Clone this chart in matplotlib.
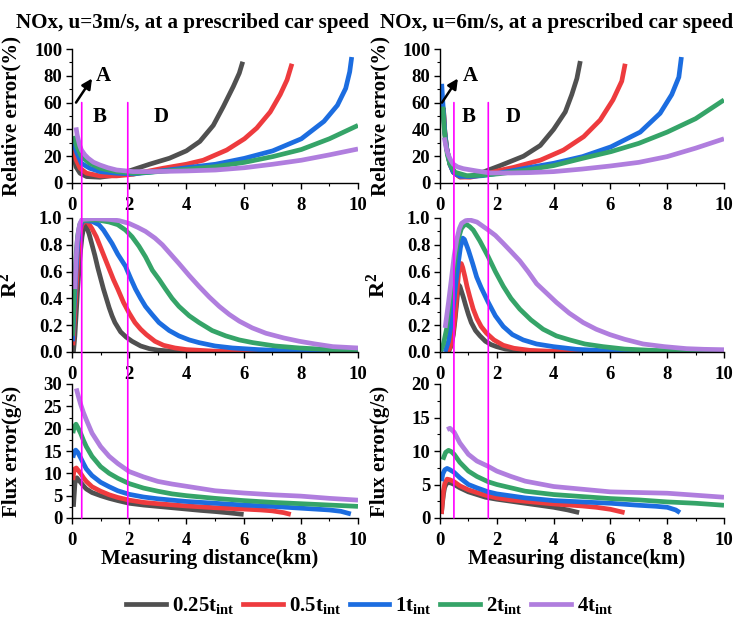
# NOx 측정 오차: u=3 / u=6 m/s, 측정 거리별 relative error, R^2, flux error
import matplotlib
matplotlib.use("Agg")
import matplotlib.pyplot as plt
from matplotlib.patches import ConnectionPatch
from matplotlib.ticker import MultipleLocator, FormatStrFormatter

plt.rcParams.update({
    "font.family": "Liberation Serif",
    "font.weight": "bold",
    "axes.labelweight": "bold",
    "mathtext.fontset": "custom",
    "mathtext.rm": "Liberation Serif:bold",
    "mathtext.it": "Liberation Serif:bold",
    "mathtext.bf": "Liberation Serif:bold",
    "axes.linewidth": 1.0,
})

# ────────────────────────────────────────
# 0. 데이터
# ────────────────────────────────────────
LABELS = [r"0.25t$_{\rm int}$", r"0.5t$_{\rm int}$", r"1t$_{\rm int}$",
          r"2t$_{\rm int}$", r"4t$_{\rm int}$"]
COLORS = ["#505050", "#ee3b3e", "#1c6de0", "#35a468", "#b07ede"]

# relative error (%), u=3
re3_x_g = [0.03, 0.08, 0.14, 0.28, 0.51, 0.98, 1.56, 2.0, 2.71, 3.41, 4.0, 4.47, 4.94, 5.29, 5.64, 5.85, 5.97]
re3_y_g = [27, 18, 12, 7.3, 4.8, 4.3, 6, 9, 14, 18.5, 24, 31, 43, 57, 72, 82, 90.5]
re3_x_r = [0.03, 0.08, 0.14, 0.28, 0.51, 0.98, 1.56, 2.14, 2.71, 3.18, 4.0, 4.59, 5.41, 6.03, 6.46, 6.93, 7.28, 7.52, 7.69]
re3_y_r = [30, 23, 17.6, 11, 7.3, 5.3, 5.3, 6.5, 9, 11, 14, 17, 24.6, 33, 41, 53, 66, 77, 89]
re3_x_b = [0.03, 0.1, 0.17, 0.33, 0.62, 0.98, 1.56, 2.14, 2.71, 4.0, 5.02, 6.03, 7.02, 8.02, 8.81, 9.28, 9.57, 9.71, 9.78]
re3_y_b = [32.3, 27, 22.4, 14.7, 11, 8.5, 7.3, 6.8, 8, 11.4, 14, 18.4, 24, 33, 46, 58, 70.6, 83, 94]
re3_x_gr = [0.05, 0.11, 0.17, 0.33, 0.62, 0.98, 1.56, 2.14, 2.71, 4.0, 5.02, 6.03, 7.02, 8.02, 9.0, 10.0]
re3_y_gr = [35, 31, 27, 19.7, 14.7, 11, 8.5, 7.3, 8, 10.2, 12.2, 15.4, 19.7, 25, 33, 43]
re3_x_p = [0.14, 0.18, 0.22, 0.27, 0.33, 0.45, 0.57, 0.75, 0.98, 1.25, 1.56, 2.14, 2.71, 3.3, 4.0, 5.02, 6.03, 7.02, 8.02, 9.0, 10.0]
re3_y_p = [41.5, 36, 32.3, 28, 24.6, 21, 18.4, 15.5, 13.4, 11.4, 9.7, 8.5, 8.5, 8.7, 9.0, 9.7, 11.4, 14, 17, 21, 25.4]

# relative error (%), u=6
re6_x_g = [0.12, 0.17, 0.23, 0.35, 0.47, 0.7, 1.06, 1.5, 2.12, 2.94, 3.53, 4.0, 4.41, 4.64, 4.82, 4.94]
re6_y_g = [56, 38, 26.6, 14, 8, 4.5, 5, 8, 13, 20, 28, 40, 53, 66, 78, 91]
re6_x_r = [0.12, 0.17, 0.23, 0.35, 0.47, 0.7, 1.06, 1.5, 2.12, 2.6, 3.53, 4.35, 5.06, 5.64, 6.09, 6.4, 6.52]
re6_y_r = [56, 38, 26.6, 14, 8, 4.5, 4.3, 6, 9.5, 11.7, 17, 24.6, 34.6, 47, 62, 76, 89]
re6_x_b = [0.06, 0.1, 0.17, 0.23, 0.35, 0.47, 0.7, 1.06, 1.5, 2.12, 3.0, 4.0, 5.02, 6.02, 7.05, 7.75, 8.16, 8.41, 8.5]
re6_y_b = [74, 60, 38, 26.6, 14, 8, 5, 4.8, 5.5, 7.5, 11, 14.7, 19.7, 27, 38, 52, 66, 79, 94]
re6_x_gr = [0.1, 0.14, 0.18, 0.26, 0.35, 0.53, 0.94, 1.5, 2.12, 3.0, 4.0, 5.02, 6.02, 7.0, 8.0, 9.0, 10.0]
re6_y_gr = [57, 43, 33.6, 21, 14, 8, 5.5, 5.8, 7, 9.5, 13, 18.4, 23.4, 29.6, 38, 48, 62]
re6_x_p = [0.15, 0.22, 0.29, 0.38, 0.47, 0.62, 0.82, 1.29, 1.76, 2.5, 3.2, 4.0, 5.0, 6.0, 7.0, 8.0, 9.0, 10.0]
re6_y_p = [34, 26, 21, 17, 14, 12, 10.7, 9, 7.5, 7.5, 7.8, 8.5, 10.4, 12.7, 15.4, 19.7, 26, 33]

# R^2, u=3
r3_x_g = [0.05, 0.1, 0.15, 0.2, 0.25, 0.3, 0.35, 0.4, 0.45, 0.5, 0.6, 0.7, 0.8, 0.9, 1.0, 1.1, 1.2, 1.3, 1.4,
          1.5, 1.7, 1.9, 2.1, 2.4, 2.7, 3.0, 3.5, 4.0, 5.0, 6.0]
r3_y_g = [0.0, 0.12, 0.3, 0.48, 0.63, 0.76, 0.86, 0.92, 0.95, 0.94, 0.88, 0.8, 0.72, 0.63, 0.55, 0.47, 0.4,
          0.33, 0.27, 0.22, 0.15, 0.11, 0.08, 0.045, 0.025, 0.014, 0.006, 0.003, 0.001, 0.0]
r3_x_r = [0.03, 0.1, 0.15, 0.2, 0.25, 0.3, 0.35, 0.45, 0.55, 0.7, 0.85, 1.0, 1.15, 1.3, 1.45, 1.6, 1.8, 2.0,
          2.2, 2.4, 2.6, 2.9, 3.2, 3.6, 4.0, 5.0, 6.0, 7.6]
r3_y_r = [0.05, 0.3, 0.5, 0.68, 0.82, 0.91, 0.95, 0.975, 0.97, 0.92, 0.86, 0.78, 0.7, 0.62, 0.54, 0.47, 0.37,
          0.29, 0.22, 0.17, 0.13, 0.08, 0.05, 0.03, 0.018, 0.006, 0.002, 0.0]
r3_x_b = [0.02, 0.08, 0.14, 0.2, 0.27, 0.35, 0.45, 0.7, 0.94, 1.1, 1.25, 1.4, 1.6, 1.87, 2.05, 2.22, 2.4,
          2.57, 2.8, 3.04, 3.4, 3.74, 4.1, 4.44, 5.0, 5.61, 6.5, 7.37, 8.5, 10.0]
r3_y_b = [0.08, 0.35, 0.6, 0.8, 0.92, 0.97, 0.98, 0.975, 0.95, 0.91, 0.86, 0.81, 0.73, 0.64, 0.55, 0.47, 0.4,
          0.34, 0.28, 0.22, 0.16, 0.12, 0.09, 0.07, 0.045, 0.03, 0.018, 0.01, 0.006, 0.003]
r3_x_gr = [0.02, 0.06, 0.1, 0.15, 0.2, 0.27, 0.35, 0.6, 0.9, 1.3, 1.6, 1.87, 2.1, 2.34, 2.57, 2.81, 3.05,
           3.27, 3.5, 3.74, 4.1, 4.44, 4.9, 5.38, 5.85, 6.32, 7.1, 7.95, 9.0, 10.0]
r3_y_gr = [0.12, 0.35, 0.55, 0.75, 0.87, 0.95, 0.98, 0.985, 0.985, 0.97, 0.95, 0.91, 0.86, 0.79, 0.71, 0.61,
           0.54, 0.47, 0.4, 0.34, 0.27, 0.22, 0.16, 0.12, 0.09, 0.07, 0.045, 0.03, 0.018, 0.01]
r3_x_p = [0.1, 0.14, 0.18, 0.23, 0.28, 0.35, 0.8, 1.29, 1.65, 1.99, 2.3, 2.57, 2.9, 3.16, 3.45, 3.74, 4.1,
          4.44, 4.8, 5.15, 5.5, 5.85, 6.3, 6.78, 7.4, 7.95, 8.5, 9.12, 10.0]
r3_y_p = [0.47, 0.68, 0.82, 0.91, 0.96, 0.99, 0.995, 0.99, 0.98, 0.96, 0.93, 0.9, 0.85, 0.8, 0.73, 0.66, 0.57,
          0.49, 0.41, 0.34, 0.28, 0.23, 0.18, 0.14, 0.105, 0.08, 0.06, 0.04, 0.03]

# R^2, u=6
r6_x_g = [0.3, 0.4, 0.47, 0.53, 0.58, 0.62, 0.66, 0.7, 0.76, 0.82, 0.9, 1.0, 1.1, 1.25, 1.41, 1.6, 1.8,
          1.99, 2.3, 2.81, 3.5, 4.9]
r6_y_g = [0.0, 0.05, 0.13, 0.24, 0.35, 0.44, 0.5, 0.49, 0.45, 0.41, 0.35, 0.28, 0.22, 0.16, 0.12, 0.08,
          0.055, 0.04, 0.022, 0.01, 0.004, 0.0]
r6_x_r = [0.25, 0.35, 0.45, 0.53, 0.6, 0.65, 0.7, 0.75, 0.8, 0.88, 0.95, 1.05, 1.17, 1.3, 1.45, 1.64, 1.9,
          2.23, 2.6, 3.17, 4.0, 5.0, 6.5]
r6_y_r = [0.0, 0.03, 0.12, 0.27, 0.45, 0.58, 0.66, 0.66, 0.63, 0.56, 0.49, 0.41, 0.32, 0.25, 0.19, 0.14,
          0.09, 0.05, 0.028, 0.012, 0.005, 0.002, 0.0]
r6_x_b = [0.18, 0.3, 0.4, 0.47, 0.55, 0.64, 0.72, 0.8, 0.86, 0.93, 1.0, 1.15, 1.29, 1.45, 1.7, 1.95, 2.23,
          2.55, 2.93, 3.4, 3.99, 4.8, 5.74, 7.0, 8.5]
r6_y_b = [0.0, 0.08, 0.22, 0.34, 0.5, 0.66, 0.78, 0.85, 0.84, 0.8, 0.76, 0.66, 0.56, 0.48, 0.37, 0.27, 0.19,
          0.13, 0.09, 0.06, 0.04, 0.02, 0.01, 0.005, 0.0]
r6_x_gr = [0.02, 0.12, 0.23, 0.35, 0.47, 0.56, 0.64, 0.75, 0.86, 0.95, 1.05, 1.17, 1.4, 1.7, 1.95, 2.23,
           2.5, 2.81, 3.2, 3.63, 4.1, 4.57, 5.1, 5.74, 6.5, 7.5, 8.7, 10.0]
r6_y_gr = [0.005, 0.06, 0.17, 0.37, 0.59, 0.74, 0.84, 0.92, 0.95, 0.95, 0.935, 0.91, 0.83, 0.71, 0.6, 0.49,
           0.4, 0.32, 0.24, 0.17, 0.12, 0.09, 0.06, 0.04, 0.022, 0.012, 0.006, 0.003]
r6_x_p = [0.18, 0.3, 0.41, 0.5, 0.59, 0.68, 0.76, 0.9, 1.06, 1.3, 1.5, 1.7, 1.95, 2.23, 2.5, 2.81, 3.1,
          3.4, 3.75, 4.1, 4.55, 5.04, 5.5, 5.98, 6.5, 7.15, 7.9, 8.68, 9.3, 10.0]
r6_y_p = [0.18, 0.37, 0.56, 0.72, 0.84, 0.92, 0.96, 0.98, 0.985, 0.97, 0.94, 0.91, 0.87, 0.81, 0.75, 0.68,
          0.6, 0.51, 0.44, 0.37, 0.29, 0.22, 0.17, 0.13, 0.095, 0.06, 0.04, 0.025, 0.02, 0.017]

# flux error (g/s), u=3
fx3_x_g = [0.05, 0.08, 0.1, 0.13, 0.17, 0.22, 0.3, 0.4, 0.5, 0.7, 1.0, 1.3, 1.6, 2.0, 2.5, 3.0, 3.5, 4.0,
           4.5, 5.0, 5.5, 6.0]
fx3_y_g = [2.5, 5.5, 7.5, 8.8, 9.0, 8.6, 8.0, 7.2, 6.5, 5.7, 5.0, 4.4, 3.9, 3.3, 2.9, 2.6, 2.3, 2.0, 1.7,
           1.45, 1.15, 0.8]
fx3_x_r = [0.03, 0.06, 0.1, 0.15, 0.2, 0.3, 0.4, 0.5, 0.7, 1.0, 1.3, 1.6, 2.0, 2.5, 3.0, 4.0, 5.0, 6.0,
           6.6, 7.0, 7.4, 7.65]
fx3_y_r = [8.5, 10.2, 11.0, 11.2, 10.8, 10, 9.0, 8.2, 7.0, 6.0, 5.2, 4.6, 4.0, 3.5, 3.2, 2.7, 2.3, 2.0,
           1.8, 1.6, 1.2, 0.8]
fx3_x_b = [0.03, 0.08, 0.13, 0.2, 0.3, 0.4, 0.5, 0.7, 1.0, 1.3, 1.6, 2.0, 2.5, 3.0, 4.0, 5.0, 6.0, 7.0,
           8.0, 9.0, 9.4, 9.75]
fx3_y_b = [13.5, 14.8, 15.2, 14.7, 13.5, 12.2, 11.0, 9.5, 8.0, 7.0, 6.1, 5.3, 4.7, 4.3, 3.7, 3.3, 2.9, 2.6,
           2.2, 1.8, 1.5, 0.9]
fx3_x_gr = [0.03, 0.08, 0.14, 0.2, 0.3, 0.4, 0.5, 0.7, 1.0, 1.3, 1.6, 2.0, 2.5, 3.0, 3.5, 4.0, 5.0, 6.0,
            7.0, 8.0, 9.0, 10.0]
fx3_y_gr = [19, 20.5, 21, 20.3, 19, 17.4, 16, 13.8, 11.5, 10.0, 8.9, 7.7, 6.7, 6.0, 5.4, 5.0, 4.4, 3.9,
            3.5, 3.2, 2.9, 2.6]
fx3_x_p = [0.15, 0.22, 0.3, 0.4, 0.5, 0.7, 1.0, 1.3, 1.6, 2.0, 2.5, 3.0, 3.5, 4.0, 5.0, 6.0, 7.0, 8.0,
           9.0, 10.0]
fx3_y_p = [29, 27.3, 25.5, 23.6, 22, 19, 16, 13.8, 12.2, 10.4, 9.2, 8.2, 7.6, 7.1, 6.1, 5.6, 5.2, 4.9,
           4.4, 4.0]

# flux error (g/s), u=6
fx6_x_g = [0.05, 0.08, 0.12, 0.16, 0.22, 0.3, 0.4, 0.5, 0.7, 1.0, 1.3, 1.6, 2.0, 2.5, 3.0, 3.5, 4.0,
           4.5, 4.9]
fx6_y_g = [0.6, 2.0, 3.5, 4.5, 5.1, 5.3, 5.2, 5.0, 4.5, 3.9, 3.5, 3.1, 2.8, 2.5, 2.2, 1.9, 1.6, 1.2, 0.8]
fx6_x_r = [0.05, 0.08, 0.12, 0.17, 0.25, 0.35, 0.5, 0.7, 1.0, 1.3, 1.6, 2.0, 2.5, 3.0, 4.0, 5.0, 5.5,
           6.0, 6.5]
fx6_y_r = [0.6, 2.2, 4.0, 5.2, 5.8, 5.7, 5.4, 4.8, 4.2, 3.8, 3.4, 3.0, 2.7, 2.5, 2.1, 1.8, 1.6, 1.3, 0.8]
fx6_x_b = [0.05, 0.1, 0.17, 0.25, 0.35, 0.5, 0.7, 1.0, 1.3, 1.7, 2.0, 2.5, 3.0, 4.0, 5.0, 6.0, 7.0, 7.6,
           8.0, 8.3, 8.45]
fx6_y_b = [5.5, 6.6, 7.2, 7.4, 7.2, 6.8, 6.0, 5.0, 4.5, 3.9, 3.6, 3.3, 3.0, 2.6, 2.4, 2.2, 1.9, 1.75,
           1.6, 1.2, 0.8]
fx6_x_gr = [0.1, 0.2, 0.3, 0.4, 0.5, 0.7, 1.0, 1.3, 1.7, 2.0, 2.5, 3.0, 4.0, 5.0, 6.0, 7.0, 8.0, 9.0, 10.0]
fx6_y_gr = [8.7, 9.8, 10.1, 9.9, 9.5, 8.3, 7.0, 6.2, 5.4, 5.0, 4.5, 4.0, 3.5, 3.2, 2.9, 2.7, 2.4, 2.2, 1.9]
fx6_x_p = [0.25, 0.35, 0.5, 0.7, 1.0, 1.3, 1.7, 2.0, 2.5, 3.0, 3.5, 4.0, 5.0, 6.0, 7.0, 8.0, 9.0, 10.0]
fx6_y_p = [13.2, 13.4, 12.8, 11.2, 9.5, 8.5, 7.7, 7.0, 6.2, 5.5, 5.1, 4.7, 4.3, 3.9, 3.8, 3.7, 3.4, 3.1]

# 구간 경계 (km)
BOUNDS_U3 = [0.34, 1.95]
BOUNDS_U6 = [0.49, 1.70]

TITLES = ["NOx, u=3m/s, at a prescribed car speed",
          "NOx, u=6m/s, at a prescribed car speed"]

TICK_FS = 13.5
LABEL_FS = 15


def style_axis(ax, ylim, ymaj, ymin, yfmt):
    ax.set_xlim(0, 10)
    ax.set_ylim(*ylim)
    ax.xaxis.set_major_locator(MultipleLocator(2))
    ax.xaxis.set_minor_locator(MultipleLocator(1))
    ax.yaxis.set_major_locator(MultipleLocator(ymaj))
    ax.yaxis.set_minor_locator(MultipleLocator(ymin))
    ax.yaxis.set_major_formatter(FormatStrFormatter(yfmt))
    for s in ("top", "right"):
        ax.spines[s].set_visible(False)
    ax.tick_params(which="major", direction="out", length=4, width=1,
                   labelsize=TICK_FS)
    ax.tick_params(which="minor", direction="out", length=2.5, width=0.8)
    ax.tick_params(axis="x", which="major", pad=6)
    ax.tick_params(axis="y", which="major", pad=3)
    ax.set_facecolor("none")


def draw_curves(ax, xs, ys):
    for x, y, c in zip(xs, ys, COLORS):
        ax.plot(x, y, color=c, lw=3.4, solid_capstyle="butt",
                solid_joinstyle="round")


def main():
    fig = plt.figure(figsize=(7.4, 6.23), dpi=100)
    W, H = 740, 623
    col_left = [72, 440]
    col_width = [286, 284]
    row_top = [49, 218, 384]   # px (figure 상단 기준)
    row_h = 134

    series = [
        [  # u=3
            ([re3_x_g, re3_x_r, re3_x_b, re3_x_gr, re3_x_p],
             [re3_y_g, re3_y_r, re3_y_b, re3_y_gr, re3_y_p]),
            ([r3_x_g, r3_x_r, r3_x_b, r3_x_gr, r3_x_p],
             [r3_y_g, r3_y_r, r3_y_b, r3_y_gr, r3_y_p]),
            ([fx3_x_g, fx3_x_r, fx3_x_b, fx3_x_gr, fx3_x_p],
             [fx3_y_g, fx3_y_r, fx3_y_b, fx3_y_gr, fx3_y_p]),
        ],
        [  # u=6
            ([re6_x_g, re6_x_r, re6_x_b, re6_x_gr, re6_x_p],
             [re6_y_g, re6_y_r, re6_y_b, re6_y_gr, re6_y_p]),
            ([r6_x_g, r6_x_r, r6_x_b, r6_x_gr, r6_x_p],
             [r6_y_g, r6_y_r, r6_y_b, r6_y_gr, r6_y_p]),
            ([fx6_x_g, fx6_x_r, fx6_x_b, fx6_x_gr, fx6_x_p],
             [fx6_y_g, fx6_y_r, fx6_y_b, fx6_y_gr, fx6_y_p]),
        ],
    ]
    flux_top = [30, 20]
    bounds = [BOUNDS_U3, BOUNDS_U6]
    title_x = [192, 557]
    # A/B/D 위치: (arrow tail, arrow head, A, B, D)
    marks = [
        ((0.14, 60), (0.70, 78), (1.08, 80), (0.98, 49), (3.1, 49)),
        ((0.07, 60), (0.63, 78), (1.06, 80), (1.02, 49), (2.57, 49)),
    ]

    for c in range(2):
        axes = []
        for r in range(3):
            ax = fig.add_axes([col_left[c] / W, 1 - (row_top[r] + row_h) / H,
                               col_width[c] / W, row_h / H])
            xs, ys = series[c][r]
            draw_curves(ax, xs, ys)
            if r == 0:
                style_axis(ax, (0, 100), 20, 10, "%d")
                ax.set_ylabel("Relative error(%)", fontsize=LABEL_FS)
            elif r == 1:
                style_axis(ax, (0, 1.0), 0.2, 0.1, "%.1f")
                ax.set_ylabel(r"R$^{\rm 2}$", fontsize=LABEL_FS + 1)
            else:
                style_axis(ax, (0, flux_top[c]), 5, 2.5, "%d")
                ax.set_ylabel("Flux error(g/s)", fontsize=LABEL_FS)
                ax.set_xlabel("Measuring distance(km)", fontsize=LABEL_FS)
                ax.xaxis.set_label_coords(0.48, -0.235)
            ax.yaxis.set_label_coords(-0.175, 0.5)
            axes.append(ax)

        # 구간 표시
        tail, head, pa, pb, pd = marks[c]
        ax0 = axes[0]
        ax0.annotate("", xy=head, xytext=tail,
                     arrowprops=dict(arrowstyle="-|>", color="k", lw=1.8,
                                     mutation_scale=15, shrinkA=0, shrinkB=0))
        for txt, p in zip("ABD", (pa, pb, pd)):
            ax0.text(p[0], p[1], txt, fontsize=15, ha="center", va="center")

        for xb in bounds[c]:
            con = ConnectionPatch(xyA=(xb, 60), coordsA="data", axesA=axes[0],
                                  xyB=(xb, 0), coordsB="data", axesB=axes[2],
                                  color="#ff00ff", lw=1.2, zorder=10)
            fig.add_artist(con)

        fig.text(title_x[c] / W, 1 - 23 / H, TITLES[c], fontsize=15.2,
                 ha="center", va="center")

    handles = [plt.Line2D([], [], color=col, lw=3.4) for col in COLORS]
    fig.legend(handles, LABELS, loc="center", ncol=5, frameon=False,
               bbox_to_anchor=(370 / W, 1 - 606 / H), fontsize=15,
               handlelength=1.9, handletextpad=0.3, columnspacing=0.4)

    fig.savefig("out.png", dpi=100)
    plt.close(fig)


if __name__ == "__main__":
    main()
